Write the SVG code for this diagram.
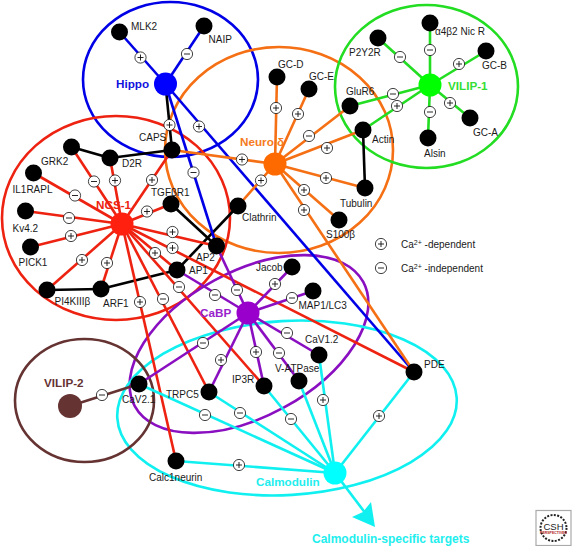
<svg xmlns="http://www.w3.org/2000/svg" width="572" height="546" viewBox="0 0 572 546">
<style>
text{font-family:"Liberation Sans",Arial,Helvetica,sans-serif}
.l{font-size:10px;fill:#1a1a1a}
.h{font-size:11.7px;font-weight:bold}
.t{font-size:12px;font-weight:bold}
.r{fill:none;stroke-width:2.6}
.c line{stroke-width:2.6}
.bu{stroke:#0000e6}.re{stroke:#ee2211}.or{stroke:#f57015}.gr{stroke:#22dd22}.pu{stroke:#8a0fc0}.cy{stroke:#10f0f0}.br{stroke:#663333}.bk{stroke:#000}
.n{fill:#000}
.s{fill:#fff;stroke:#111;stroke-width:.8}
.g{stroke:#111;stroke-width:.9;fill:none}
</style>
<defs>
<g id="p"><circle class="s" r="5.6"/><path class="g" d="M-3 0H3M0-3V3"/></g>
<g id="m"><circle class="s" r="5.6"/><path class="g" d="M-3 0H3"/></g>
</defs>
<g id="regions">
<ellipse class="r bu" cx="170.500" cy="79.500" rx="87.500" ry="77.500"/>
<ellipse class="r or" cx="279" cy="150" rx="114" ry="103"/>
<ellipse class="r gr" cx="426.500" cy="86.500" rx="91.500" ry="81.500"/>
<ellipse class="r re" cx="116" cy="218" rx="114" ry="102"/>
<ellipse class="r pu" cx="249" cy="344" rx="130" ry="72.500" transform="rotate(-28.500 249 344)"/>
<ellipse class="r cy" cx="287" cy="408" rx="170" ry="87" transform="rotate(-3.400 287 408)"/>
<ellipse class="r br" cx="84.500" cy="400.500" rx="69.500" ry="61.500"/>
</g>
<g id="connectors" class="c">
<line class="bk" x1="71.500" y1="147" x2="110" y2="158"/>
<line class="bk" x1="110" y1="158" x2="172" y2="150"/>
<line class="bk" x1="47" y1="290" x2="101" y2="289"/>
<line class="bk" x1="101" y1="289" x2="177" y2="270"/>
<line class="bk" x1="363" y1="130" x2="365" y2="188"/>
<line class="bk" x1="171" y1="204" x2="216.500" y2="246"/>
<line class="bk" x1="238" y1="206" x2="177" y2="270"/>
<line class="bk" x1="165.500" y1="84" x2="172" y2="150"/>
<line class="bu" x1="165.500" y1="84" x2="119.500" y2="32"/>
<line class="bu" x1="165.500" y1="84" x2="204" y2="26"/>
<line class="bu" x1="165.500" y1="84" x2="414" y2="372"/>
<line class="bu" x1="165.500" y1="84" x2="216.500" y2="246"/>
<line class="or" x1="275" y1="164" x2="277" y2="77"/>
<line class="or" x1="275" y1="164" x2="309" y2="89"/>
<line class="or" x1="275" y1="164" x2="350" y2="106"/>
<line class="or" x1="275" y1="164" x2="363" y2="130"/>
<line class="or" x1="275" y1="164" x2="365" y2="188"/>
<line class="or" x1="275" y1="164" x2="339" y2="220"/>
<line class="or" x1="275" y1="164" x2="414" y2="372"/>
<line class="or" x1="275" y1="164" x2="238" y2="206"/>
<line class="or" x1="275" y1="164" x2="172" y2="150"/>
<line class="gr" x1="430" y1="85" x2="430" y2="23"/>
<line class="gr" x1="430" y1="85" x2="378" y2="38"/>
<line class="gr" x1="430" y1="85" x2="486" y2="51"/>
<line class="gr" x1="430" y1="85" x2="470" y2="118"/>
<line class="gr" x1="430" y1="85" x2="428" y2="138"/>
<line class="gr" x1="430" y1="85" x2="350" y2="106"/>
<line class="gr" x1="430" y1="85" x2="363" y2="130"/>
<line class="re" x1="122" y1="224" x2="71.500" y2="147"/>
<line class="re" x1="122" y1="224" x2="110" y2="158"/>
<line class="re" x1="122" y1="224" x2="33.500" y2="173"/>
<line class="re" x1="122" y1="224" x2="25.500" y2="211"/>
<line class="re" x1="122" y1="224" x2="30.500" y2="247"/>
<line class="re" x1="122" y1="224" x2="172" y2="150"/>
<line class="re" x1="122" y1="224" x2="171" y2="204"/>
<line class="re" x1="122" y1="224" x2="216.500" y2="246"/>
<line class="re" x1="122" y1="224" x2="414" y2="372"/>
<line class="re" x1="122" y1="224" x2="177" y2="270"/>
<line class="re" x1="122" y1="224" x2="47" y2="290"/>
<line class="re" x1="122" y1="224" x2="101" y2="289"/>
<line class="re" x1="122" y1="224" x2="176" y2="461"/>
<line class="re" x1="122" y1="224" x2="209" y2="392"/>
<line class="re" x1="122" y1="224" x2="264" y2="386"/>
<line class="pu" x1="248" y1="313" x2="177" y2="270"/>
<line class="pu" x1="248" y1="313" x2="216.500" y2="246"/>
<line class="pu" x1="248" y1="313" x2="292" y2="267"/>
<line class="pu" x1="248" y1="313" x2="313" y2="291"/>
<line class="pu" x1="248" y1="313" x2="319" y2="355"/>
<line class="pu" x1="248" y1="313" x2="299" y2="381"/>
<line class="pu" x1="248" y1="313" x2="264" y2="386"/>
<line class="pu" x1="248" y1="313" x2="209" y2="392"/>
<line class="pu" x1="248" y1="313" x2="139" y2="384"/>
<line class="cy" x1="335" y1="473" x2="139" y2="384"/>
<line class="cy" x1="335" y1="473" x2="209" y2="392"/>
<line class="cy" x1="335" y1="473" x2="264" y2="386"/>
<line class="cy" x1="335" y1="473" x2="299" y2="381"/>
<line class="cy" x1="335" y1="473" x2="319" y2="355"/>
<line class="cy" x1="335" y1="473" x2="414" y2="372"/>
<line class="cy" x1="335" y1="473" x2="176" y2="461"/>
<line class="cy" x1="335" y1="473" x2="366" y2="514"/>
<path d="M371 502L375 527L352 517L363 512Z" fill="#10f0f0"/>
<line class="br" x1="70" y1="406" x2="139" y2="384"/>
<use href="#p" x="140.500" y="57.500"/><use href="#m" x="187" y="54"/><use href="#p" x="169.500" y="125"/><use href="#p" x="199" y="126.500"/><use href="#m" x="193.500" y="172.500"/>
<use href="#p" x="276" y="108"/><use href="#p" x="298" y="114"/><use href="#m" x="309" y="136"/><use href="#p" x="327" y="148"/><use href="#p" x="326" y="178"/><use href="#p" x="304" y="190"/><use href="#p" x="304" y="210"/><use href="#p" x="261" y="180.500"/><use href="#p" x="242" y="159.500"/>
<use href="#m" x="430" y="50"/><use href="#m" x="400" y="57"/><use href="#p" x="459" y="64"/><use href="#p" x="450" y="103"/><use href="#m" x="430" y="112"/><use href="#m" x="393" y="94"/><use href="#p" x="397" y="106"/>
<use href="#m" x="94" y="181.500"/><use href="#p" x="115" y="180.500"/><use href="#m" x="75" y="195.500"/><use href="#m" x="69" y="218"/><use href="#p" x="71" y="236"/><use href="#p" x="152" y="180"/><use href="#p" x="147" y="211.500"/><use href="#p" x="172.500" y="232"/><use href="#p" x="172.500" y="248"/><use href="#p" x="155" y="253"/><use href="#p" x="82" y="260"/><use href="#p" x="107" y="263"/><use href="#p" x="140" y="302"/><use href="#m" x="163" y="299"/><use href="#m" x="179" y="287"/>
<use href="#m" x="215" y="295"/><use href="#m" x="237" y="290"/><use href="#p" x="275" y="284"/><use href="#m" x="292" y="298"/><use href="#m" x="287" y="333"/><use href="#m" x="279" y="353"/><use href="#p" x="256" y="352"/><use href="#p" x="221" y="360"/><use href="#m" x="203" y="343"/>
<use href="#m" x="205" y="415"/><use href="#m" x="240" y="413"/><use href="#m" x="291" y="419"/><use href="#p" x="323" y="400"/><use href="#p" x="379" y="416"/><use href="#p" x="239" y="465"/><use href="#m" x="102" y="395"/>
</g>
<g id="hippo"><circle cx="165.500" cy="84" r="11.500" fill="#0000ff"/><text class="h" x="116" y="87.500" fill="#1111dd">Hippo</text></g>
<g id="neuro"><circle cx="275" cy="164" r="11.500" fill="#ff6a00"/><text class="h" x="240" y="146" fill="#f57a20">Neuro δ</text></g>
<g id="vilip1"><circle cx="430" cy="85" r="11.500" fill="#00ff00"/><text class="h" x="448" y="90" fill="#33dd33">VILIP-1</text></g>
<g id="ncs1"><circle cx="122" cy="224" r="11.500" fill="#ff2010"/><text class="h" x="96" y="209" fill="#ee2211">NCS-1</text></g>
<g id="cabp"><circle cx="248" cy="313" r="11.500" fill="#9900cc"/><text class="h" x="200" y="317" fill="#9922cc">CaBP</text></g>
<g id="calmodulin"><circle cx="335" cy="473" r="11.500" fill="#00ffff"/><text class="h" x="256" y="486" fill="#22eeee">Calmodulin</text></g>
<g id="vilip2"><circle cx="70" cy="406" r="12" fill="#663333"/><text class="h" x="44" y="387" fill="#663333">VILIP-2</text></g>
<g id="targets"><text class="t" x="312" y="543" fill="#22eeee">Calmodulin-specific targets</text></g>
<g id="n-mlk2"><circle class="n" cx="119.500" cy="32" r="8.500"/><text class="l" x="131" y="30">MLK2</text></g>
<g id="n-naip"><circle class="n" cx="204" cy="26" r="8.500"/><text class="l" x="208.500" y="43">NAIP</text></g>
<g id="n-caps"><circle class="n" cx="172" cy="150" r="8.500"/><text class="l" x="139" y="141">CAPS</text></g>
<g id="n-d2r"><circle class="n" cx="110" cy="158" r="8.500"/><text class="l" x="122" y="167">D2R</text></g>
<g id="n-grk2"><circle class="n" cx="71.500" cy="147" r="8.500"/><text class="l" x="41" y="165">GRK2</text></g>
<g id="n-il1rapl"><circle class="n" cx="33.500" cy="173" r="8.500"/><text class="l" x="12.500" y="193">IL1RAPL</text></g>
<g id="n-kv42"><circle class="n" cx="25.500" cy="211" r="8.500"/><text class="l" x="12.500" y="232">Kv4.2</text></g>
<g id="n-pick1"><circle class="n" cx="30.500" cy="247" r="8.500"/><text class="l" x="18.500" y="266">PICK1</text></g>
<g id="n-tgf"><circle class="n" cx="171" cy="204" r="8.500"/><text class="l" x="151" y="196">TGFβR1</text></g>
<g id="n-clathrin"><circle class="n" cx="238" cy="206" r="8.500"/><text class="l" x="242" y="221">Clathrin</text></g>
<g id="n-ap2"><circle class="n" cx="216.500" cy="246" r="8.500"/><text class="l" x="196" y="261">AP2</text></g>
<g id="n-ap1"><circle class="n" cx="177" cy="270" r="8.500"/><text class="l" x="189" y="274">AP1</text></g>
<g id="n-pi4k"><circle class="n" cx="47" cy="290" r="8.500"/><text class="l" x="54.500" y="305">PI4KIIIβ</text></g>
<g id="n-arf1"><circle class="n" cx="101" cy="289" r="8.500"/><text class="l" x="103" y="307">ARF1</text></g>
<g id="n-jacob"><circle class="n" cx="292" cy="267" r="8.500"/><text class="l" x="256" y="271">Jacob</text></g>
<g id="n-map1"><circle class="n" cx="313" cy="291" r="8.500"/><text class="l" x="298.500" y="309">MAP1/LC3</text></g>
<g id="n-cav12"><circle class="n" cx="319" cy="355" r="8.500"/><text class="l" x="305" y="343">CaV1.2</text></g>
<g id="n-vatpase"><circle class="n" cx="299" cy="381" r="8.500"/><text class="l" x="275" y="372">V-ATPase</text></g>
<g id="n-ip3r"><circle class="n" cx="264" cy="386" r="8.500"/><text class="l" x="232" y="383">IP3R</text></g>
<g id="n-trpc5"><circle class="n" cx="209" cy="392" r="8.500"/><text class="l" x="166" y="398">TRPC5</text></g>
<g id="n-cav21"><circle class="n" cx="139" cy="384" r="8.500"/><text class="l" x="122" y="403">CaV2.1</text></g>
<g id="n-calc"><circle class="n" cx="176" cy="461" r="8.500"/><text class="l" x="149" y="481">Calc1neurin</text></g>
<g id="n-pde"><circle class="n" cx="414" cy="372" r="8.500"/><text class="l" x="424" y="368">PDE</text></g>
<g id="n-gcd"><circle class="n" cx="277" cy="77" r="8.500"/><text class="l" x="278" y="68">GC-D</text></g>
<g id="n-gce"><circle class="n" cx="309" cy="89" r="8.500"/><text class="l" x="309" y="80">GC-E</text></g>
<g id="n-glur6"><circle class="n" cx="350" cy="106" r="8.500"/><text class="l" x="346" y="95">GluR6</text></g>
<g id="n-actin"><circle class="n" cx="363" cy="130" r="8.500"/><text class="l" x="372" y="143">Actin</text></g>
<g id="n-tubulin"><circle class="n" cx="365" cy="188" r="8.500"/><text class="l" x="340" y="207">Tubulin</text></g>
<g id="n-s100"><circle class="n" cx="339" cy="220" r="8.500"/><text class="l" x="326" y="238">S100β</text></g>
<g id="n-a4b2"><circle class="n" cx="430" cy="23" r="8.500"/><text class="l" x="435" y="35">α4β2 Nic R</text></g>
<g id="n-p2y2r"><circle class="n" cx="378" cy="38" r="8.500"/><text class="l" x="349" y="56">P2Y2R</text></g>
<g id="n-gcb"><circle class="n" cx="486" cy="51" r="8.500"/><text class="l" x="482" y="69">GC-B</text></g>
<g id="n-gca"><circle class="n" cx="470" cy="118" r="8.500"/><text class="l" x="473" y="136">GC-A</text></g>
<g id="n-alsin"><circle class="n" cx="428" cy="138" r="8.500"/><text class="l" x="424" y="157">Alsin</text></g>
<g id="legend">
<use href="#p" x="381" y="244"/><text class="l" x="401" y="248">Ca<tspan font-size="7" dy="-3">2+</tspan><tspan dy="3"> -dependent</tspan></text>
<use href="#m" x="381" y="268"/><text class="l" x="401" y="272">Ca<tspan font-size="7" dy="-3">2+</tspan><tspan dy="3"> -independent</tspan></text>
</g>
<g id="logo">
<rect x="536" y="510.500" width="35" height="35" fill="#fff" stroke="#aaa" stroke-width="1.200"/>
<circle cx="553.500" cy="528" r="13" fill="none" stroke="#222" stroke-width="2" stroke-dasharray="2 1.400"/>
<text x="553.500" y="530" font-size="9.500" text-anchor="middle" fill="#222">CSH</text>
<text x="553.500" y="533.500" font-size="3.500" font-weight="bold" text-anchor="middle" fill="#b01818">PERSPECTIVES</text>
</g>
</svg>
